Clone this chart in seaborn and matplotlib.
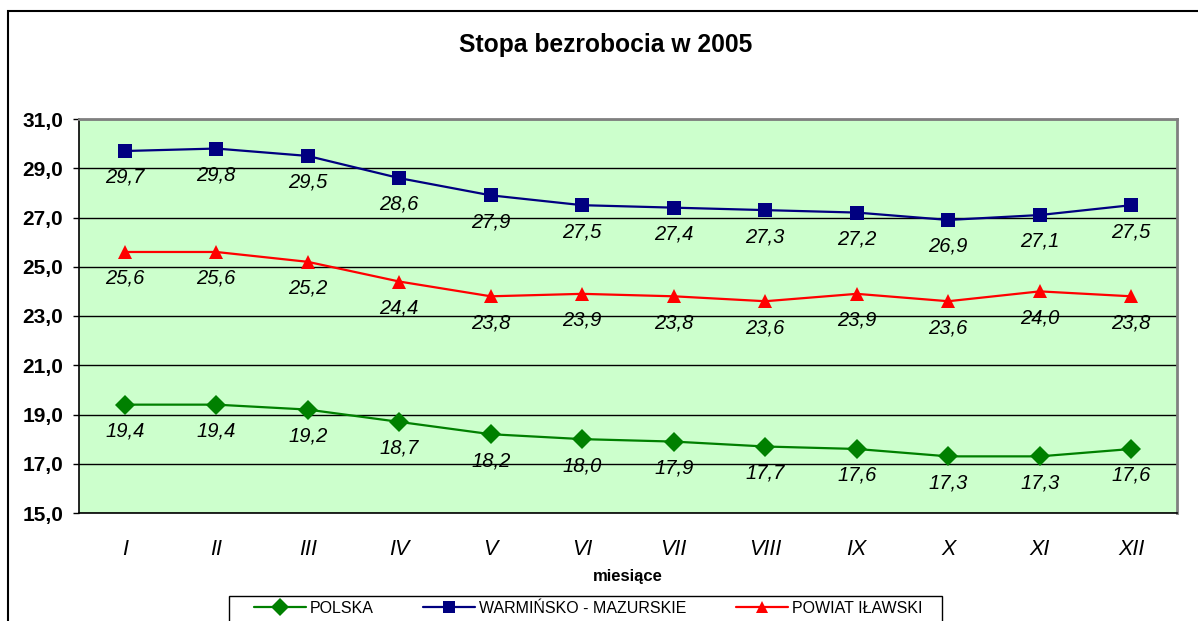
import pandas as pd
import matplotlib.pyplot as plt
import seaborn as sns
from matplotlib.lines import Line2D

# Data
months = ['I', 'II', 'III', 'IV', 'V', 'VI', 'VII', 'VIII', 'IX', 'X', 'XI', 'XII']
polska = [19.4, 19.4, 19.2, 18.7, 18.2, 18.0, 17.9, 17.7, 17.6, 17.3, 17.3, 17.6]
warm_maz = [29.7, 29.8, 29.5, 28.6, 27.9, 27.5, 27.4, 27.3, 27.2, 26.9, 27.1, 27.5]
powiat = [25.6, 25.6, 25.2, 24.4, 23.8, 23.9, 23.8, 23.6, 23.9, 23.6, 24.0, 23.8]
series_names = ['POLSKA', 'WARMIŃSKO - MAZURSKIE', 'POWIAT IŁAWSKI']

# long-form table for seaborn
rows = []
for name, vals in zip(series_names, [polska, warm_maz, powiat]):
    for i, v in enumerate(vals):
        rows.append({'x': i, 'value': v, 'series': name})
df = pd.DataFrame(rows)

colors = {'POLSKA': '#008000', 'WARMIŃSKO - MAZURSKIE': '#000080', 'POWIAT IŁAWSKI': '#FF0000'}
markers = {'POLSKA': 'D', 'WARMIŃSKO - MAZURSKIE': 's', 'POWIAT IŁAWSKI': '^'}

sns.set_style('white')
plt.rcParams['font.family'] = ['Liberation Sans', 'DejaVu Sans']
plt.rcParams['text.color'] = 'black'
plt.rcParams['axes.labelcolor'] = 'black'
plt.rcParams['xtick.color'] = 'black'
plt.rcParams['ytick.color'] = 'black'

W, H = 1198, 621
fig = plt.figure(figsize=(W / 100, H / 100), dpi=100)
ax = fig.add_axes([79 / W, 1 - 513 / H, 1098 / W, 394 / H])
ax.set_facecolor('#CCFFCC')

sns.lineplot(data=df, x='x', y='value', hue='series', style='series',
             palette=colors, markers=markers, dashes=False, hue_order=series_names,
             style_order=series_names, linewidth=1.6, markersize=10,
             markeredgewidth=0, ax=ax, legend=False, zorder=3)

# data labels under each point
for name, vals in zip(series_names, [polska, warm_maz, powiat]):
    for i, v in enumerate(vals):
        ax.annotate(f'{v:.1f}'.replace('.', ','), (i, v), xytext=(0, -19),
                    textcoords='offset points', ha='center', va='center',
                    fontsize=14.5, style='italic', color='black', zorder=4)

ax.set_xlim(-0.5, 11.5)
ax.set_ylim(15, 31)
ax.set_yticks(range(15, 32, 2))
ax.set_yticklabels([f'{t},0' for t in range(15, 32, 2)], fontsize=15, fontweight='bold')
ax.set_xticks(range(12))
ax.set_xticklabels(months, fontsize=15.5, style='italic')
ax.set_xticks([i - 0.5 for i in range(13)], minor=True)
ax.tick_params(axis='x', which='major', length=0, pad=19)
ax.tick_params(axis='x', which='minor', length=4.3, width=1, color='black', direction='out')
ax.tick_params(axis='y', length=4.3, width=1, color='black', direction='out', pad=7, left=True)
ax.yaxis.grid(True, color='black', linewidth=1)
ax.set_axisbelow(True)
ax.set_xlabel('')
ax.set_ylabel('')
fig.text(628 / W, 1 - 577 / H, 'miesiące', ha='center', va='center',
         fontsize=12, fontweight='bold')

for side in ['top', 'right']:
    ax.spines[side].set_color('#808080')
    ax.spines[side].set_linewidth(2)
for side in ['left', 'bottom']:
    ax.spines[side].set_color('black')
    ax.spines[side].set_linewidth(1.2)

fig.text(606 / W, 1 - 45 / H, 'Stopa bezrobocia w 2005', ha='center', va='center',
         fontsize=17.7, fontweight='bold')

# legend at the bottom, partly cut off like the original
handles = [Line2D([], [], color=colors[n], marker=markers[n], markersize=9,
                  markeredgewidth=0, linewidth=1.6) for n in series_names]
leg = fig.legend(handles, series_names, loc='upper left', ncol=3,
                 bbox_to_anchor=(254 / W, 1 - 601 / H), frameon=False,
                 fontsize=11.5, borderpad=0, borderaxespad=0,
                 handlelength=3.27, handletextpad=0.25, columnspacing=3.07)
legend_box = plt.Rectangle((229 / W, -0.1), 713 / W, 0.1 + 1 - 596 / H,
                           transform=fig.transFigure, fill=False,
                           edgecolor='black', linewidth=1)
fig.patches.append(legend_box)

# outer chart frame (left and top edges visible)
frame = plt.Rectangle((8 / W, -0.1), 1.2, 1 - 11 / H + 0.1, transform=fig.transFigure,
                      fill=False, edgecolor='black', linewidth=1.5)
fig.patches.append(frame)

plt.savefig('out.png', dpi=100)
